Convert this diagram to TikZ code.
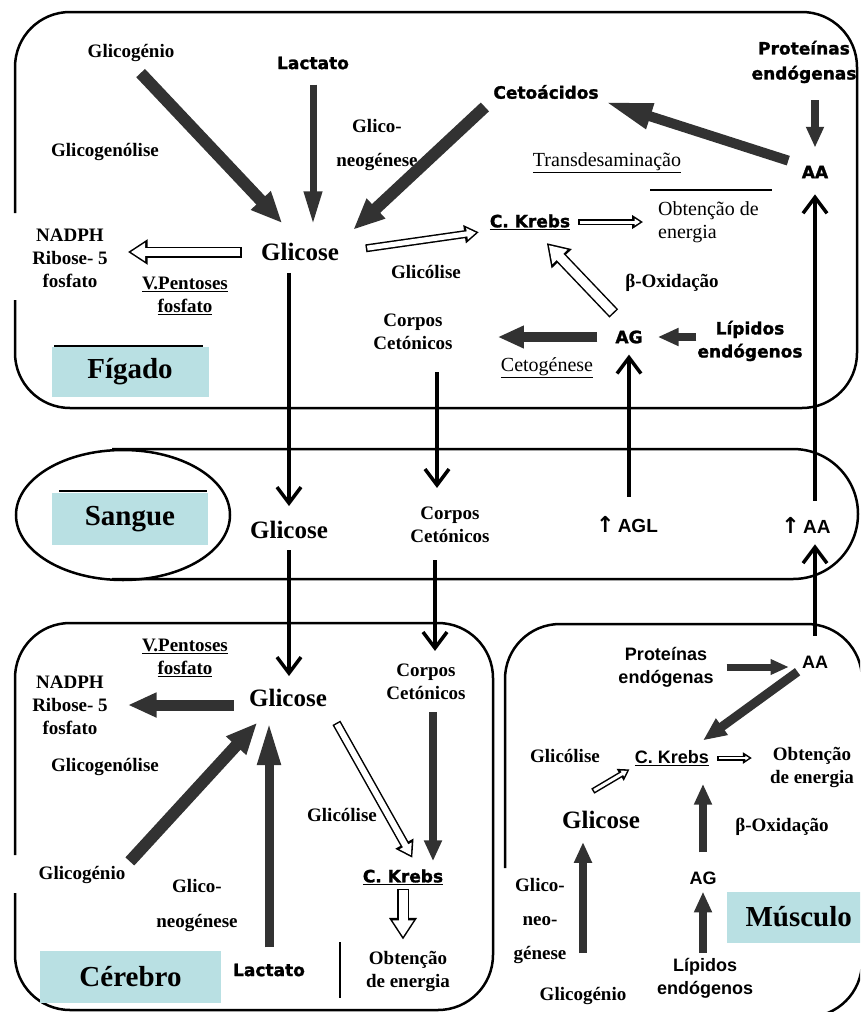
\documentclass[tikz,border=0pt]{standalone}
\usepackage{fontspec}
\setmainfont{Liberation Serif}
\setsansfont{Liberation Sans}
\newfontfamily\heavyfont{DejaVu Sans}[BoldFeatures={FakeBold=1.5}]
\newfontfamily\arrowfont{DejaVu Sans}
\usetikzlibrary{arrows.meta}
\definecolor{arrowgray}{RGB}{50,50,50}
\definecolor{labelcyan}{RGB}{185,224,227}

\begin{document}
\begin{tikzpicture}[x=1pt,y=-1pt,
  lbl/.style={font=\bfseries\fontsize{19}{23}\selectfont, align=center, inner sep=1pt},
  plain/.style={font=\fontsize{20}{23}\selectfont, align=center, inner sep=1pt},
  big/.style={font=\bfseries\fontsize{25}{28}\selectfont, inner sep=1pt},
  heavy/.style={font=\heavyfont\bfseries\fontsize{17}{24}\selectfont, align=center, inner sep=1pt},
  mssans/.style={font=\sffamily\bfseries\fontsize{18}{23}\selectfont, align=center, inner sep=1pt},
  blood/.style={font=\sffamily\bfseries\fontsize{19}{20}\selectfont, inner sep=1pt},
  organ/.style={fill=labelcyan, font=\bfseries\fontsize{29}{30}\selectfont, minimum height=50pt, inner sep=0pt},
  box/.style={draw, line width=2.5pt, rounded corners=55pt},
  dark/.style={draw=arrowgray, line width=#1, -{Triangle[length=0pt 2.6, width=0pt 2.1]}},
  darklong/.style={draw=arrowgray, line width=#1, -{Triangle[length=0pt 4.8, width=0pt 2.4]}},
  hollow/.style n args={3}{draw=black, line width=#1, shorten <=#2, shorten >=#3,
    -{Triangle[length=0pt 1.8, width=0pt 2.2]},
    postaction={draw=white, line width=#1-3pt, shorten <=#2+1.5pt, shorten >=#3+2.9pt}},
  vline/.style={draw=black, line width=3.5pt, -{Straight Barb[length=16pt, width=24pt]}}
]
\useasboundingbox (0,0) rectangle (860,1012);
\clip (0,0) rectangle (860,1012);

\draw[box] (15,300) -- (15,408) -- (857,408) -- (857,12) -- (15,12) -- (15,213);
\draw[line width=2.5pt] (112,449) -- (793,449) arc[start angle=-90, end angle=90, radius=65] -- (112,579);
\draw[line width=2.5pt] (123,515) ellipse [x radius=107, y radius=65];
\draw[box] (15,893) -- (15,1010) -- (493,1010) -- (493,623) -- (15,623) -- (15,855);
\draw[box] (505,868) -- (505,624) -- (862,624) -- (862,1017) -- (560,1017);

% Figado
\node[lbl] (fgGlicogenio) at (131,53) {Glicogénio};
\node[heavy] (fgLactato) at (313,63) {Lactato};
\node[lbl] (fgGlicogenolise) at (105,152) {Glicogenólise};
\node[lbl, font=\bfseries\fontsize{19}{34}\selectfont] (fgNeo) at (377,145) {Glico-\\neogénese};
\node[heavy] (fgCetoacidos) at (546,92) {Cetoácidos};
\node[big] (fgGlicose) at (300,252) {Glicose};
\node[lbl] (fgNADPH) at (70,258) {NADPH\\Ribose- 5\\fosfato};
\node[lbl] (fgPentoses) at (185,296) {\underline{V.Pentoses}\\\underline{fosfato}};
\node[lbl] (fgGlicolise) at (426,272) {Glicólise};
\node[lbl] (fgCorpos) at (413,332) {Corpos\\Cetónicos};
\node[heavy] (fgKrebs) at (530,222) {\underline{C. Krebs}};
\node[plain, anchor=west, align=left] (fgObtencao) at (657,222) {Obtenção de\\energia};
\node[plain] (fgTrans) at (607,163) {\underline{Transdesaminação}};
\node[heavy, font=\heavyfont\bfseries\fontsize{17}{25}\selectfont] (fgProteinas) at (804,62) {Proteínas\\endógenas};
\node[heavy] (fgAA) at (815,172) {AA};
\node[lbl] (fgBeta) at (672,283) {β-Oxidação};
\node[heavy] (fgAG) at (629,337) {AG};
\node[heavy, font=\heavyfont\bfseries\fontsize{17}{23}\selectfont] (fgLipidos) at (750,341) {Lípidos\\endógenos};
\node[plain] (fgCetogenese) at (547,368) {\underline{Cetogénese}};
\node[organ, minimum width=157pt] (fgFigado) at (130,372) {Fígado};
\draw[line width=1.5pt] (54,346) -- (203,346);
\draw[line width=1.5pt] (650,190) -- (772,190);

% Sangue
\node[organ, minimum width=156pt, minimum height=52pt] (sgSangue) at (130,519) {Sangue};
\draw[line width=1.5pt] (59,491) -- (207,491);
\node[big] (sgGlicose) at (289,530) {Glicose};
\node[lbl] (sgCorpos) at (450,525) {Corpos\\Cetónicos};
\node[blood] (sgAGL) at (627,525) {{\arrowfont\fontsize{22}{22}\selectfont ↑}\,AGL};
\node[blood] (sgAA) at (806,525) {{\arrowfont\fontsize{22}{22}\selectfont ↑}\,AA};

% Cerebro
\node[lbl] (cbPentoses) at (185,658) {\underline{V.Pentoses}\\\underline{fosfato}};
\node[lbl] (cbNADPH) at (70,705) {NADPH\\Ribose- 5\\fosfato};
\node[big] (cbGlicose) at (288,698) {Glicose};
\node[lbl] (cbCorpos) at (426,682) {Corpos\\Cetónicos};
\node[heavy] (cbKrebs) at (403,877) {\underline{C. Krebs}};
\node[lbl] (cbObtencao) at (408,971) {Obtenção\\de energia};
\node[heavy] (cbLactato) at (269,970) {Lactato};
\node[lbl] (cbGlicogenolise) at (105,767) {Glicogenólise};
\node[lbl] (cbGlicogenio) at (82,875) {Glicogénio};
\node[lbl, font=\bfseries\fontsize{19}{35}\selectfont] (cbNeo) at (197,905) {Glico-\\neogénese};
\node[lbl] (cbGlicolise) at (342,815) {Glicólise};
\node[organ, minimum width=181pt, minimum height=52pt] (cbCerebro) at (130.5,977) {Cérebro};
\draw[line width=1.5pt] (340,942) -- (340,998);

% Musculo
\node[mssans] (msProteinas) at (666,667) {Proteínas\\endógenas};
\node[mssans] (msAA) at (815,662) {AA};
\node[lbl] (msGlicolise) at (565,756) {Glicólise};
\node[mssans] (msKrebs) at (672,758) {\underline{C. Krebs}};
\node[lbl] (msObtencao) at (812,767) {Obtenção\\de energia};
\node[big] (msGlicose) at (601,820) {Glicose};
\node[lbl] (msBeta) at (782,827) {β-Oxidação};
\node[mssans] (msAG) at (703,878) {AG};
\node[mssans] (msLipidos) at (705,978) {Lípidos\\endógenos};
\node[lbl, font=\bfseries\fontsize{19}{34}\selectfont] (msNeo) at (540,921) {Glico-\\neo-\\génese};
\node[lbl] (msGlicogenio) at (583,996) {Glicogénio};
\node[organ, minimum width=143pt, minimum height=51pt, anchor=west] (msMusculo) at (727,917) {Músculo};

% arrows figado
\draw[dark=12pt, shorten <=14pt, shorten >=26pt] (fgGlicogenio.south) -- (fgGlicose.north);
\draw[darklong=7pt, shorten <=14pt, shorten >=17pt] (fgLactato.south) -- (fgLactato.south |- fgGlicose.north);
\draw[dark=12pt, shorten <=10pt, shorten >=18pt] (fgCetoacidos.south west) -- (fgGlicose.north east);
\draw[darklong=10pt, shorten <=13pt, shorten >=5pt] (fgAA.north west) -- (fgCetoacidos.south east);
\draw[dark=8pt, shorten <=16pt, shorten >=17pt] (fgAA.north |- fgProteinas.south) -- (fgAA.north);
\draw[dark=8pt, shorten >=14pt] (fgAG.east -| fgLipidos.west) -- (fgAG.east);
\draw[dark=10pt, shorten <=17pt, shorten >=44pt] (fgAG.west) -- (fgAG.west -| fgCorpos.east);
\draw[hollow={11pt}{18pt}{19pt}] (fgGlicose.west) -- (fgGlicose.west -| fgNADPH.east);
\draw[hollow={8pt}{26pt}{10pt}] (fgGlicose.east) -- (fgKrebs.south west);
\draw[hollow={6pt}{7pt}{14pt}] (fgKrebs.east) -- (fgKrebs.east -| fgObtencao.west);
\draw[hollow={12pt}{22pt}{17pt}] (fgAG.north) -- (fgKrebs.-60);

% arrows through sangue
\draw[vline, shorten <=11pt, shorten >=14pt] (sgGlicose |- fgGlicose.south) -- (sgGlicose.north);
\draw[vline, shorten <=10pt, shorten >=12pt] (sgGlicose.south) -- (sgGlicose.south |- cbGlicose.north);
\draw[vline, shorten <=21pt, shorten >=18pt] ([xshift=24pt]fgCorpos.south) -- ([xshift=24pt]fgCorpos.south |- sgCorpos.north);
\draw[vline, shorten <=16pt, shorten >=12pt] ([xshift=-15pt]sgCorpos.south) -- ([xshift=-15pt]sgCorpos.south |- cbCorpos.north);
\draw[vline, shorten <=19pt, shorten >=10pt] (sgAGL.north -| fgAG.south) -- (fgAG.south);
\draw[vline, shorten <=15pt, shorten >=15pt] (sgAA.north -| fgAA.south) -- (fgAA.south);
\draw[vline, shorten <=19pt, shorten >=10pt] (msAA.north) -- (msAA.north |- sgAA.south);

% arrows cerebro
\draw[dark=11pt, shorten <=14pt, shorten >=19pt] (cbNADPH.east -| cbGlicose.west) -- (cbNADPH.east);
\draw[dark=12pt, shorten <=5pt, shorten >=20pt] (cbGlicogenio.north east) -- (cbGlicose.210);
\draw[darklong=9pt, shorten <=15pt, shorten >=14pt] (cbLactato.north) -- (cbLactato.north |- cbGlicose.south);
\draw[dark=8pt, shorten <=11pt, shorten >=7pt] ([xshift=7pt]cbCorpos.south) -- ([xshift=7pt]cbCorpos.south |- cbKrebs.north);
\draw[hollow={9pt}{17pt}{12pt}] (cbGlicose.south east) -- (cbKrebs.30);
\draw[hollow={12pt}{3pt}{10pt}] (cbKrebs.south) -- (cbKrebs.south |- cbObtencao.north);

% arrows musculo
\draw[dark=7pt, shorten <=12pt, shorten >=12pt] (msProteinas.east) -- (msProteinas.east -| msAA.west);
\draw[dark=9pt, shorten <=4pt, shorten >=15pt] (msAA.south west) -- (msKrebs.25);
\draw[hollow={5pt}{7pt}{17pt}] (msKrebs.east) -- (msKrebs.east -| msObtencao.west);
\draw[hollow={6pt}{37pt}{5pt}] (msGlicose.north west) -- (msKrebs.south west);
\draw[dark=8pt, shorten <=18pt, shorten >=17pt] (msAG.north) -- (msAG.north |- msKrebs.south);
\draw[dark=8pt, shorten <=4pt, shorten >=6pt] (msAG.south |- msLipidos.north) -- (msAG.south);
\draw[dark=8pt, shorten <=33pt, shorten >=12pt] (msGlicogenio.north) -- (msGlicogenio.north |- msGlicose.south);

\end{tikzpicture}
\end{document}
